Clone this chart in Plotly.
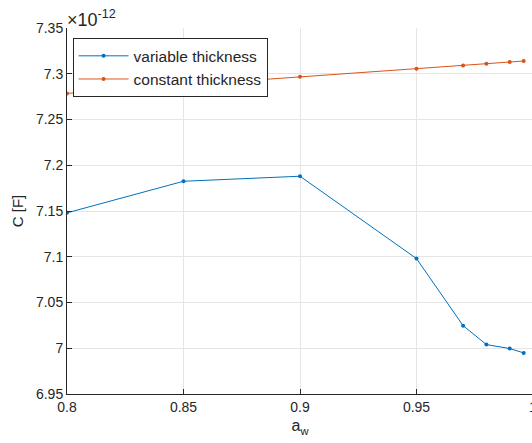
import plotly.graph_objects as go

# Capacitance versus a_w for the two thickness models
a_w = [0.8, 0.85, 0.9, 0.95, 0.97, 0.98, 0.99, 0.996]
c_variable = [7.148, 7.1825, 7.188, 7.098, 7.0247, 7.004, 6.9997, 6.9949]
c_constant = [7.2785, 7.2876, 7.2967, 7.3055, 7.3091, 7.311, 7.3128, 7.3139]
scale_exp = -12

x_ticks = [0.8, 0.85, 0.9, 0.95, 1]
x_tick_text = ["0.8", "0.85", "0.9", "0.95", "1"]
y_ticks = [6.95, 7.0, 7.05, 7.1, 7.15, 7.2, 7.25, 7.3, 7.35]
y_tick_text = ["6.95", "7", "7.05", "7.1", "7.15", "7.2", "7.25", "7.3", "7.35"]

BLUE = "#0072BD"
ORANGE = "#D95319"
INK = "#262626"
GRID = "#e5e5e5"
FONT = "Liberation Sans, Arial, sans-serif"

fig = go.Figure()
fig.add_trace(go.Scatter(
    x=a_w, y=c_variable, mode="lines+markers", name="variable thickness",
    line=dict(color=BLUE, width=1), marker=dict(color=BLUE, size=4),
))
fig.add_trace(go.Scatter(
    x=a_w, y=c_constant, mode="lines+markers", name="constant thickness",
    line=dict(color=ORANGE, width=1), marker=dict(color=ORANGE, size=4),
))

axis_common = dict(
    showgrid=True, gridcolor=GRID, gridwidth=1,
    showline=True, linecolor=INK, linewidth=1,
    ticks="inside", ticklen=5, tickcolor=INK,
    tickfont=dict(family=FONT, size=14, color=INK),
    zeroline=False, mirror=False, automargin=False,
)

fig.update_layout(
    width=533, height=443,
    margin=dict(l=67, r=0, t=28, b=49),
    paper_bgcolor="white", plot_bgcolor="white",
    font=dict(family=FONT, color=INK, size=14),
    xaxis=dict(
        range=[0.8, 1.0], tickvals=x_ticks, ticktext=x_tick_text,
        ticklabeloverflow="allow",
        title=dict(text="a<sub>w</sub>", font=dict(family=FONT, size=16, color=INK), standoff=6),
        **axis_common,
    ),
    yaxis=dict(
        range=[6.95, 7.35], tickvals=y_ticks, ticktext=y_tick_text,
        title=dict(text="C [F]", font=dict(family=FONT, size=15, color=INK), standoff=8),
        **axis_common,
    ),
    legend=dict(
        x=0.012, y=0.972, xanchor="left", yanchor="top",
        bgcolor="white", bordercolor=INK, borderwidth=1,
        font=dict(family=FONT, size=15.5, color=INK),
        itemwidth=50, tracegroupgap=0,
    ),
    showlegend=True,
    annotations=[dict(
        xref="paper", yref="paper", x=0, y=1, xanchor="left", yanchor="bottom",
        text="×10<sup>%d</sup>" % scale_exp, showarrow=False,
        font=dict(family=FONT, size=18, color=INK), yshift=-4, xshift=-2,
    )],
)

fig.write_html("out.html", post_script="document.body.style.overflow='hidden';")
